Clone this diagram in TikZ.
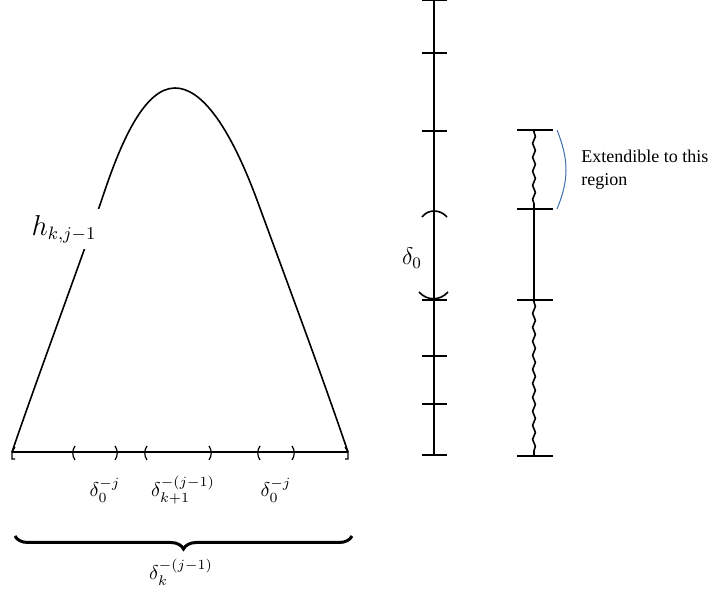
\documentclass[tikz,border=0pt]{standalone}
\usepackage{fontspec}
\usepackage{xcolor}
\newfontfamily\notefont{Liberation Serif}
\usetikzlibrary{decorations.pathmorphing, decorations.pathreplacing}
\definecolor{noteblue}{RGB}{60,110,170}

\begin{document}
\begin{tikzpicture}[
  x=0.5pt, y=-0.5pt,
  line width=0.8pt,
  delim/.style={line width=0.6pt},
  wavy/.style={decorate, decoration={snake, amplitude=0.7pt, segment length=7pt,
               pre length=1pt, post length=1pt}},
  lbl/.style={inner sep=1pt},
  note/.style={font=\notefont\fontsize{9}{11.5}\selectfont, align=left, anchor=west},
]
\useasboundingbox (0,0) rectangle (713,592);

\coordinate (L)   at (12,452);
\coordinate (R)   at (348,452);
\coordinate (top) at (175,88);

\draw (L) .. controls (40,370) and (85,250) .. (105,190)
      .. controls (122,140) and (145,88) .. (top)
      .. controls (200,88) and (228,122) .. (257,200)
      .. controls (290,290) and (320,370) .. (R);
\node[lbl, inner sep=3pt, fill=white, font=\fontsize{13.5}{15}\selectfont] (hlab) at (64,229) {$h_{k,j-1}$};

\draw[line width=0.7pt] (L) -- (R);
\draw[delim] (15,447) -- (L) |- (15,459);
\draw[delim] (345,447) -- (R) |- (345,459);
\foreach \x in {73,145,258}
  \draw[delim] (\x+2,446) .. controls (\x-1,450) and (\x-1,456) .. (\x+2,460);
\foreach \x in {117,211,294}
  \draw[delim] (\x-2,446) .. controls (\x+1,450) and (\x+1,456) .. (\x-2,460);

\node[lbl] (d1) at (105,490) {$\delta_0^{-j}$};
\node[lbl] (d2) at (183,490) {$\delta_{k+1}^{-(j-1)}$};
\node[lbl] (d3) at (276,490) {$\delta_0^{-j}$};

\draw[line width=1.5pt, decorate, decoration={brace, mirror, amplitude=6.5pt}]
  (15,536) -- (352,536);
\node[lbl] (dk) at (181,572) {$\delta_k^{-(j-1)}$};

% first scale
\coordinate (s1top) at (434,0);
\coordinate (s1bot) at (434,455);
\draw (s1top) -- (s1bot);
\foreach \y in {0,53,131,300,356,404,455}
  \draw (422,\y) -- (447,\y);
\draw (422,217) .. controls (428,209) and (440,209) .. (447,217);
\draw (419,292) .. controls (427,301) and (440,301) .. (448,292);
\node[lbl, font=\large] (d0) at (412,258) {$\delta_0$};

% second scale
\coordinate (a) at (534,130);
\coordinate (b) at (534,209);
\coordinate (c) at (534,300);
\coordinate (d) at (534,456);
\draw[wavy] (a) -- (b);
\draw (b) -- (c);
\draw[wavy] (c) -- (d);
\foreach \y in {130,209,300,456}
  \draw (517,\y) -- (553,\y);

\draw[noteblue, line width=0.5pt] (557,130) .. controls (569,160) and (569,180) .. (557,209);
\node[note] (ext) at (574,170) {Extendible to this\\region};

\end{tikzpicture}
\end{document}
